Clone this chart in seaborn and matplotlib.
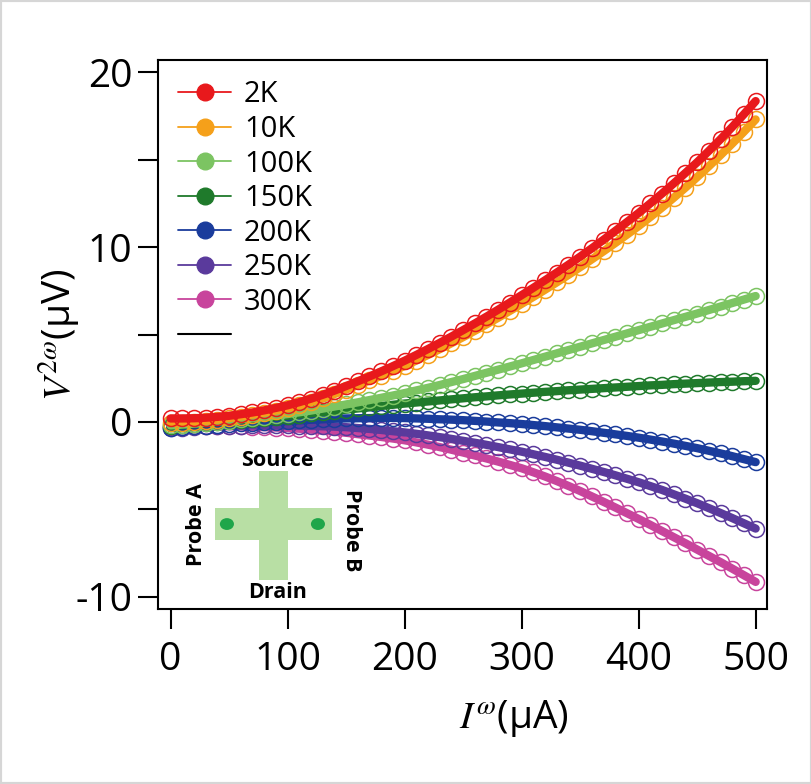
import matplotlib
matplotlib.use("Agg")
import matplotlib.pyplot as plt
from matplotlib.lines import Line2D
from matplotlib.patches import Rectangle, Circle
import numpy as np
import pandas as pd
import seaborn as sns

# Current sweep (uA), values every 10 uA
current = np.arange(0, 501, 10)
temps = ['2K', '10K', '100K', '150K', '200K', '250K', '300K']

v_2K = [0.20, 0.20, 0.21, 0.24, 0.29, 0.35, 0.44, 0.54, 0.66, 0.80,
        0.95, 1.13, 1.33, 1.55, 1.79, 2.05, 2.32, 2.60, 2.89, 3.19,
        3.50, 3.83, 4.17, 4.52, 4.88, 5.25, 5.63, 6.02, 6.42, 6.83,
        7.25, 7.67, 8.10, 8.54, 8.99, 9.45, 9.93, 10.42, 10.92, 11.43,
        11.95, 12.50, 13.06, 13.64, 14.24, 14.85, 15.50, 16.17, 16.87, 17.60,
        18.35]
v_10K = [-0.05, -0.04, 0.00, 0.06, 0.13, 0.22, 0.31, 0.42, 0.53, 0.65,
         0.78, 0.94, 1.13, 1.35, 1.59, 1.85, 2.11, 2.37, 2.64, 2.92,
         3.20, 3.51, 3.83, 4.16, 4.50, 4.85, 5.21, 5.58, 5.96, 6.35,
         6.75, 7.15, 7.56, 7.98, 8.41, 8.85, 9.30, 9.76, 10.23, 10.71,
         11.20, 11.72, 12.26, 12.82, 13.40, 14.00, 14.62, 15.26, 15.92, 16.60,
         17.30]
v_100K = [-0.20, -0.15, -0.10, -0.04, 0.02, 0.08, 0.15, 0.22, 0.29, 0.37,
          0.45, 0.55, 0.65, 0.76, 0.88, 1.00, 1.12, 1.25, 1.38, 1.51,
          1.65, 1.80, 1.95, 2.11, 2.28, 2.45, 2.63, 2.81, 2.99, 3.17,
          3.35, 3.54, 3.73, 3.92, 4.11, 4.30, 4.49, 4.68, 4.87, 5.06,
          5.25, 5.44, 5.63, 5.82, 6.01, 6.20, 6.40, 6.60, 6.80, 7.00,
          7.20]
v_150K = [-0.25, -0.19, -0.13, -0.07, -0.01, 0.05, 0.11, 0.17, 0.23, 0.29,
          0.35, 0.42, 0.49, 0.56, 0.63, 0.70, 0.77, 0.84, 0.91, 0.98,
          1.05, 1.11, 1.17, 1.23, 1.29, 1.35, 1.41, 1.46, 1.52, 1.57,
          1.62, 1.67, 1.72, 1.76, 1.81, 1.85, 1.89, 1.93, 1.97, 2.01,
          2.05, 2.09, 2.12, 2.16, 2.19, 2.22, 2.25, 2.28, 2.30, 2.33,
          2.35]
v_200K = [-0.35, -0.30, -0.25, -0.21, -0.16, -0.12, -0.08, -0.05, -0.01, 0.02,
          0.05, 0.09, 0.12, 0.15, 0.18, 0.20, 0.21, 0.22, 0.23, 0.23,
          0.22, 0.20, 0.18, 0.15, 0.13, 0.10, 0.06, 0.02, -0.03, -0.07,
          -0.12, -0.18, -0.24, -0.31, -0.38, -0.45, -0.53, -0.62, -0.71, -0.80,
          -0.90, -1.01, -1.12, -1.24, -1.37, -1.50, -1.65, -1.80, -1.96, -2.13,
          -2.30]
v_250K = [-0.35, -0.32, -0.29, -0.26, -0.24, -0.22, -0.21, -0.20, -0.20, -0.20,
          -0.20, -0.21, -0.23, -0.25, -0.27, -0.30, -0.35, -0.40, -0.46, -0.53,
          -0.60, -0.68, -0.77, -0.87, -0.97, -1.08, -1.19, -1.31, -1.44, -1.57,
          -1.70, -1.85, -2.00, -2.16, -2.33, -2.50, -2.68, -2.86, -3.05, -3.25,
          -3.45, -3.67, -3.89, -4.14, -4.39, -4.65, -4.93, -5.21, -5.50, -5.80,
          -6.10]
v_300K = [-0.30, -0.28, -0.26, -0.25, -0.25, -0.25, -0.26, -0.28, -0.30, -0.32,
          -0.35, -0.39, -0.44, -0.50, -0.56, -0.62, -0.70, -0.78, -0.86, -0.95,
          -1.05, -1.17, -1.30, -1.44, -1.59, -1.75, -1.92, -2.09, -2.27, -2.46,
          -2.65, -2.88, -3.12, -3.38, -3.66, -3.95, -4.26, -4.57, -4.89, -5.22,
          -5.55, -5.89, -6.24, -6.59, -6.94, -7.30, -7.66, -8.02, -8.39, -8.77,
          -9.15]

series = [v_2K, v_10K, v_100K, v_150K, v_200K, v_250K, v_300K]
colors = ['#e8191c', '#f5a01a', '#7cc462', '#1f7a2b', '#1a3c9c', '#5a3a9c', '#c8449c']
pal = dict(zip(temps, colors))

frames = []
for t, v in zip(temps, series):
    frames.append(pd.DataFrame({'I': current, 'V': v, 'T': t}))
df = pd.concat(frames, ignore_index=True)

sns.set_style("ticks")
plt.rcParams['font.family'] = ['Open Sans', 'DejaVu Sans']
plt.rcParams['mathtext.fontset'] = 'stix'
plt.rcParams['axes.unicode_minus'] = False
plt.rcParams['text.color'] = 'black'
plt.rcParams['axes.labelcolor'] = 'black'

fig = plt.figure(figsize=(8.12, 7.84), dpi=100)
ax = fig.add_axes([158/812, 175/784, 609/812, 549/784])

sns.lineplot(data=df, x='I', y='V', hue='T', hue_order=temps, palette=pal,
             estimator=None, sort=False, marker='o', markersize=11.5,
             markerfacecolor='none', markeredgewidth=1.1, lw=6,
             legend=False, ax=ax)
for k, ln in enumerate(ax.lines):
    ln.set_markeredgecolor(ln.get_color())
    ln.set_zorder(10 - k)

ax.set_xlim(-10.7, 509.7)
ax.set_ylim(-10.7, 20.7)
ax.set_xticks(np.arange(0, 501, 100))
ax.set_yticks([-10, 0, 10, 20])
ax.set_yticks([-5, 5, 15], minor=True)
ax.tick_params(axis='both', which='both', direction='out', length=14.4, width=1.5,
               labelsize=28, colors='black')
ax.tick_params(axis='x', pad=9)
ax.tick_params(axis='y', pad=4)
for s in ax.spines.values():
    s.set_linewidth(1.5)
    s.set_color('black')

ax.set_xlabel(r'$I^{\omega}$(μA)', fontsize=28)
ax.set_ylabel(r'$V^{2\omega}$(μV)', fontsize=28)
ax.xaxis.set_label_coords((514 - 158) / 609, (609 - 698) / 549)
ax.yaxis.set_label_coords((82 - 158) / 609, 0.5)

# Legend: filled markers on a line, plus a bare black line
handles = [Line2D([], [], color=c, lw=1.3, marker='o', ms=12, mfc=c, mec=c, label=t)
           for t, c in zip(temps, colors)]
handles.append(Line2D([], [], color='black', lw=1.5, label=' '))
ax.legend(handles=handles, loc='upper left', frameon=False, fontsize=21,
          handlelength=1.8, handletextpad=0.45, labelspacing=0.19,
          borderaxespad=0.5, borderpad=0.2)

# Inset sketch of the device
ins = fig.add_axes([180/812, (784 - 605)/784, 190/812, 160/784])
ins.set_xlim(0, 1)
ins.set_ylim(0, 1)
ins.axis('off')
bar_col = '#b8dfa4'
ins.add_patch(Rectangle((0.184, 0.406), 0.616, 0.2, color=bar_col, lw=0))
ins.add_patch(Rectangle((0.416, 0.156), 0.152, 0.681, color=bar_col, lw=0))
ins.add_patch(Circle((0.247, 0.506), 0.037, color='#1fa64a', lw=0))
ins.add_patch(Circle((0.726, 0.506), 0.037, color='#1fa64a', lw=0))
txt = dict(fontsize=15.5, fontweight='bold', ha='center', va='center', color='black')
ins.text(0.511, 0.9, 'Source', **txt)
ins.text(0.516, 0.08, 'Drain', **txt)
ins.text(0.089, 0.506, 'Probe A', rotation=90, **txt)
ins.text(0.905, 0.47, 'Probe B', rotation=-90, **txt)

fig.add_artist(Rectangle((0, 0), 1, 1, transform=fig.transFigure, fill=False,
                         ec='#d6d6d6', lw=3))

fig.savefig('out.png', dpi=100)
